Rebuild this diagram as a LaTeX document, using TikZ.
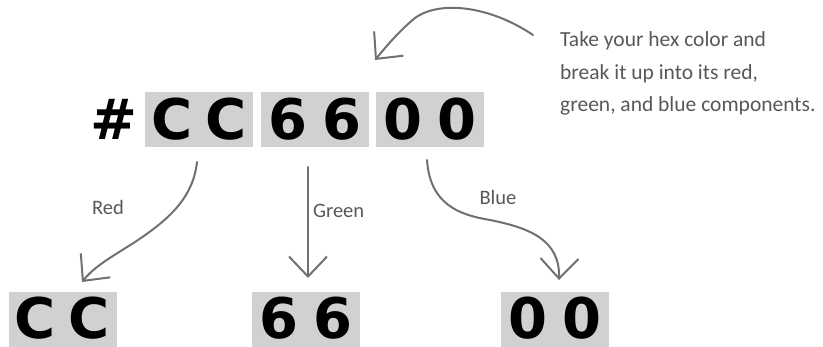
\documentclass[tikz,border=0pt]{standalone}
\usepackage{fontspec}
\setmainfont{Carlito}
\newfontfamily\hexfont{DejaVu Sans}
\usetikzlibrary{arrows.meta}
\definecolor{boxgray}{RGB}{208,209,211}
\definecolor{arrowgray}{RGB}{112,112,114}
\definecolor{textgray}{RGB}{88,88,90}
\newcommand{\hexpair}[2]{\makebox[54pt]{#1}\makebox[54pt]{#2}}
\tikzset{
  hexbox/.style={fill=boxgray, inner sep=0pt, minimum width=108pt, minimum height=55pt},
  hexchars/.style={inner sep=0pt, font=\hexfont\bfseries\fontsize{56}{56}\selectfont},
  conn/.style={draw=arrowgray, line width=2pt, line cap=round,
    -{Straight Barb[length=20pt,width=38pt,line width=2pt]}},
  lbl/.style={text=textgray, inner sep=0pt, font=\fontsize{20.5}{24}\selectfont},
  note/.style={text=textgray, inner sep=0pt, align=left, font=\fontsize{21.5}{32.5}\selectfont}
}
\begin{document}
\begin{tikzpicture}[x=1pt,y=-1pt]
\useasboundingbox (0,0) rectangle (823,347);
% top row
\node[hexchars] (hash) at (114,119) {\#};
\node[hexbox] (tCC) at (199,119.5) {};
\node[hexbox] (t66) at (314.5,119.5) {};
\node[hexbox] (t00) at (429.5,119.5) {};
\node[hexchars] (tCCt) at (tCC) {\hexpair{C}{C}};
\node[hexchars] (t66t) at (t66) {\hexpair{6}{6}};
\node[hexchars] (t00t) at (t00) {\hexpair{0}{0}};
% bottom row
\node[hexbox] (bCC) at (62.5,319.5) {};
\node[hexbox] (b66) at (306,319.5) {};
\node[hexbox] (b00) at (555,319.5) {};
\node[hexchars] (bCCt) at ([yshift=1.5pt]bCC.center) {\hexpair{C}{C}};
\node[hexchars] (b66t) at ([yshift=1.5pt]b66.center) {\hexpair{6}{6}};
\node[hexchars] (b00t) at ([yshift=1.5pt]b00.center) {\hexpair{0}{0}};
% note (base = last line)
\node[note, anchor=base west] (note) at (560,112) {Take your hex color and\\break it up into its red,\\green, and blue components.};
% labels
\node[lbl] (lred) at (108,207) {Red};
\node[lbl, anchor=west] (lgreen) at (313,211) {Green};
\node[lbl] (lblue) at (498,197) {Blue};
% connector end points
\coordinate (rs) at (197,162);
\coordinate (re) at (82,282);
\coordinate (gs) at (308,167);
\coordinate (ge) at (308,278);
\coordinate (bs) at (427,160);
\coordinate (be) at (559,280);
\coordinate (ns) at (533,35);
\coordinate (ne) at (375,60);
% connectors
\draw[conn] (rs) .. controls (193,200) and (165,222) .. (135,242) .. controls (110,258) and (95,266) .. (re);
\draw[conn] (gs) -- (ge);
\draw[conn] (bs) .. controls (430,205) and (460,215) .. (490,220) .. controls (530,228) and (560,240) .. (be);
\draw[conn] (ns) .. controls (490,6) and (440,0) .. (415,18) .. controls (398,32) and (385,48) .. (ne);
\end{tikzpicture}
\end{document}
